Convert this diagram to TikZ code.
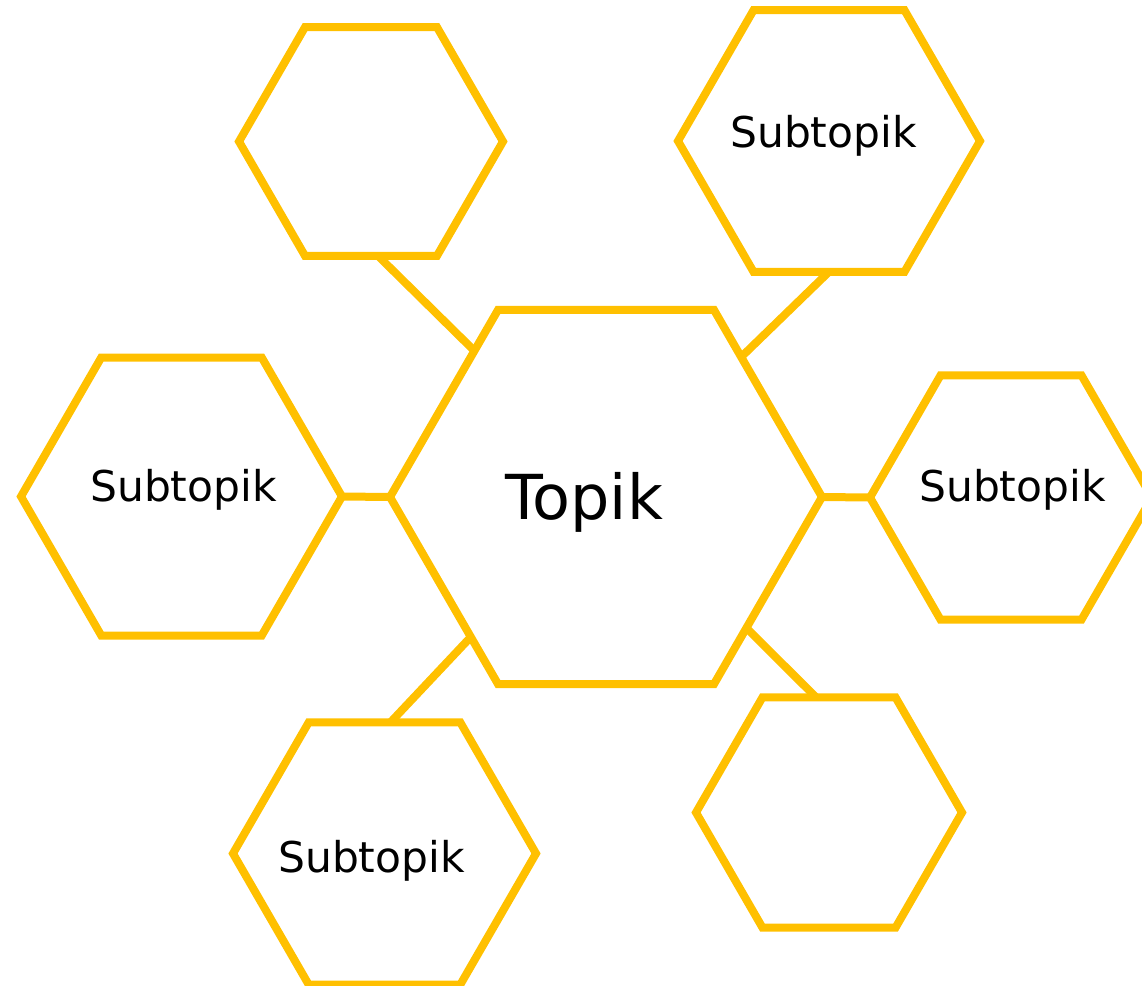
\documentclass[tikz,border=0pt]{standalone}
\usepackage{fontspec}
\setmainfont{DejaVu Sans}
\usetikzlibrary{shapes.geometric}
\definecolor{kuning}{HTML}{FFC000}
\tikzset{
	hexa/.style={regular polygon, regular polygon sides=6, draw=kuning, line width=4pt, inner sep=0pt, outer sep=0pt},
	garis/.style={draw=kuning, line width=4pt},
	subteks/.style={font=\fontsize{21.2}{25}\selectfont},
	topteks/.style={font=\fontsize{31}{36}\selectfont}
}
\begin{document}
\begin{tikzpicture}[x=0.5pt, y=0.5pt]
		\useasboundingbox (0,0) rectangle (1142,-986);
		% topik di tengah
		\node[hexa, minimum size=216pt] (topik) at (606,-497) {};
		\node[topteks] (topik-t) at (584,-502) {Topik};
		% subtopik
		\node[hexa, minimum size=132pt] (sub1) at (371,-141.5) {};
		\node[hexa, minimum size=151pt] (sub2) at (829,-141) {};
		\node[subteks] (sub2-t) at (823.5,-136) {Subtopik};
		\node[hexa, minimum size=160.5pt] (sub3) at (181.5,-496.5) {};
		\node[subteks] (sub3-t) at (183.5,-490) {Subtopik};
		\node[hexa, minimum size=141pt] (sub4) at (1011,-497.5) {};
		\node[subteks] (sub4-t) at (1012.5,-490) {Subtopik};
		\node[hexa, minimum size=151.5pt] (sub5) at (384.5,-853.5) {};
		\node[subteks] (sub5-t) at (371.5,-861) {Subtopik};
		\node[hexa, minimum size=133pt] (sub6) at (829,-812.5) {};
		% penghubung
		\draw[garis] ([xshift=3.5pt]sub1.south) -- (topik.132);
		\draw[garis] (sub2.south) -- (topik.46);
		\draw[garis] (sub3.east) -- (topik.west);
		\draw[garis] (topik.east) -- (sub4.west);
		\draw[garis] (topik.226) -- ([xshift=3pt]sub5.north);
		\draw[garis] (topik.-43.5) -- ([xshift=-6.5pt]sub6.north);
	\end{tikzpicture}
\end{document}
